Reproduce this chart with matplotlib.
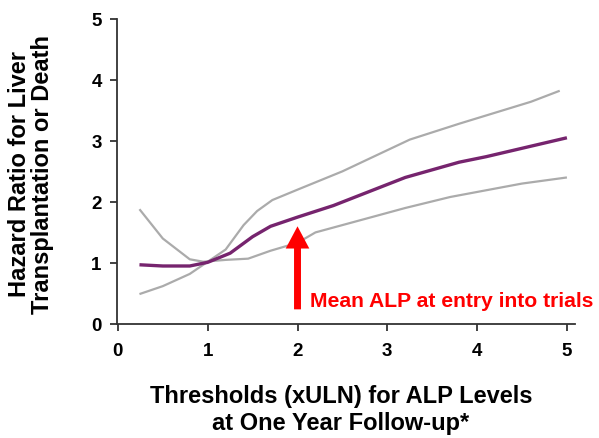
import matplotlib
matplotlib.use('Agg')
import matplotlib.pyplot as plt

# hazard ratio curve and the two confidence limits
hr_x = [0.24, 0.5, 0.8, 1.0, 1.25, 1.5, 1.7, 2.0, 2.4, 3.2, 3.8, 4.1, 5.0]
hr_y = [0.97, 0.95, 0.95, 1.01, 1.16, 1.43, 1.6, 1.75, 1.94, 2.4, 2.65, 2.74, 3.05]

ci_a_x = [0.24, 0.5, 0.8, 1.0, 1.2, 1.4, 1.55, 1.72, 2.0, 2.5, 3.25, 3.8, 4.6, 4.92]
ci_a_y = [0.49, 0.62, 0.82, 1.02, 1.22, 1.62, 1.85, 2.03, 2.2, 2.5, 3.02, 3.28, 3.64, 3.82]

ci_b_x = [0.24, 0.5, 0.8, 0.95, 1.2, 1.45, 1.7, 2.0, 2.2, 3.2, 3.7, 4.5, 5.0]
ci_b_y = [1.88, 1.4, 1.06, 1.02, 1.05, 1.07, 1.2, 1.33, 1.5, 1.9, 2.08, 2.3, 2.4]

mean_alp = 2.0
ticks = [0, 1, 2, 3, 4, 5]

plt.rcParams['font.family'] = ['Liberation Sans', 'DejaVu Sans']

fig = plt.figure(figsize=(5.99, 4.39), dpi=100)
ax = fig.add_axes([117 / 599, 114 / 439, 458 / 599, 305.3 / 439])

ax.plot(ci_a_x, ci_a_y, color='#ababab', lw=1.6, solid_capstyle='butt')
ax.plot(ci_b_x, ci_b_y, color='#ababab', lw=1.6, solid_capstyle='butt')
ax.plot(hr_x, hr_y, color='#76246e', lw=2.4, solid_capstyle='butt')

# red arrow marking mean ALP at entry
ax.annotate('', xy=(mean_alp, 1.6), xytext=(mean_alp, 0.24),
            arrowprops=dict(facecolor='#ff0000', edgecolor='none',
                            width=5, headwidth=17, headlength=16))
ax.text(mean_alp + 0.14, 0.30, 'Mean ALP at entry into trials', color='#ff0000',
        fontsize=15.2, fontweight='bold', va='baseline', ha='left')

ax.set_xlim(-0.01, 5.09)
ax.set_ylim(0, 5)
ax.set_xticks(ticks)
ax.set_yticks(ticks)
ax.spines['top'].set_visible(False)
ax.spines['right'].set_visible(False)
for s in ['left', 'bottom']:
    ax.spines[s].set_linewidth(1.3)
    ax.spines[s].set_color('#333333')
ax.tick_params(direction='out', length=5, width=1.3, color='#333333',
               labelsize=13.5, pad=6)
ax.tick_params(axis='x', pad=8)
for lab in ax.get_xticklabels() + ax.get_yticklabels():
    lab.set_fontweight('bold')

fig.text(31 / 599, 1 - 174 / 439, 'Hazard Ratio for Liver\nTransplantation or Death',
         rotation=90, ha='center', va='center', multialignment='center',
         fontsize=17, fontweight='bold', linespacing=1.05)
fig.text(341 / 599, 1 - 410 / 439, 'Thresholds (xULN) for ALP Levels\nat One Year Follow-up*',
         ha='center', va='center', multialignment='center',
         fontsize=17, fontweight='bold', linespacing=1.2)

fig.savefig('out.png', dpi=100)
